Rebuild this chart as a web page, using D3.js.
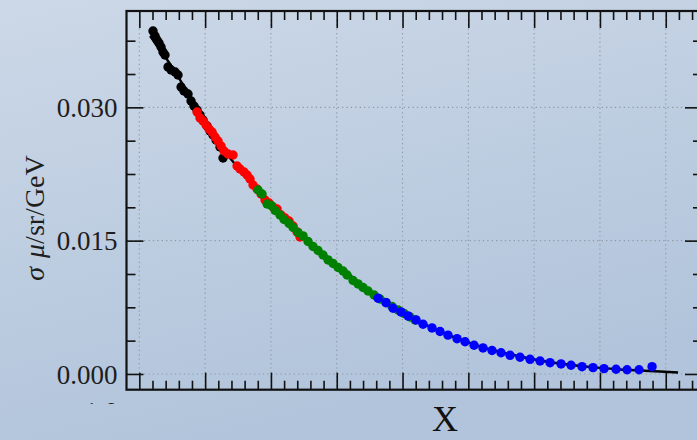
<!DOCTYPE html>
<html>
<head>
<meta charset="utf-8">
<script src="https://cdn.jsdelivr.net/npm/d3@7"></script>
<style>
  html, body { margin: 0; padding: 0; overflow: hidden; }
  svg { display: block; }
</style>
</head>
<body>
<svg id="chart" width="697" height="440"></svg>
<script>
// Cross-section measurements from four data sets, with the fitted curve
const blackX = [0.208, 0.239, 0.269, 0.299, 0.330, 0.360, 0.390, 0.436, 0.482, 0.543, 0.588, 0.634, 0.679, 0.740, 0.786, 0.831, 0.877, 0.922, 0.968, 1.029, 1.074, 1.120, 1.166, 1.226, 1.272];
const blackY = [0.03859, 0.03803, 0.03758, 0.03724, 0.03679, 0.03623, 0.03589, 0.03454, 0.03420, 0.03398, 0.03364, 0.03229, 0.03184, 0.03150, 0.03071, 0.03015, 0.02970, 0.02914, 0.02858, 0.02790, 0.02734, 0.02689, 0.02633, 0.02554, 0.02430];

const redX = [0.877, 0.922, 0.968, 1.014, 1.059, 1.105, 1.150, 1.196, 1.242, 1.287, 1.348, 1.424, 1.485, 1.530, 1.591, 1.637, 1.682, 1.728, 1.789, 1.850, 1.910, 1.971, 2.032, 2.093, 2.153, 2.214, 2.275, 2.336, 2.397, 2.442];
const redY = [0.02948, 0.02880, 0.02846, 0.02801, 0.02756, 0.02723, 0.02666, 0.02621, 0.02565, 0.02509, 0.02475, 0.02464, 0.02340, 0.02306, 0.02273, 0.02239, 0.02194, 0.02126, 0.02081, 0.02025, 0.01958, 0.01924, 0.01879, 0.01856, 0.01789, 0.01755, 0.01721, 0.01665, 0.01598, 0.01541];

const greenX = [1.804, 1.865, 1.941, 2.002, 2.063, 2.138, 2.199, 2.275, 2.336, 2.412, 2.488, 2.564, 2.640, 2.716, 2.792, 2.868, 2.944, 3.020, 3.096, 3.157, 3.248, 3.324, 3.400, 3.476, 3.567, 3.658, 3.749, 3.841, 3.932, 4.023, 4.114, 4.190];
const greenY = [0.02070, 0.02025, 0.01913, 0.01896, 0.01839, 0.01789, 0.01738, 0.01693, 0.01648, 0.01592, 0.01553, 0.01491, 0.01434, 0.01389, 0.01339, 0.01283, 0.01243, 0.01198, 0.01159, 0.01114, 0.01052, 0.01013, 0.00973, 0.00934, 0.00889, 0.00844, 0.00804, 0.00759, 0.00720, 0.00681, 0.00641, 0.00608];

const blueX = [3.628, 3.749, 3.856, 3.977, 4.084, 4.205, 4.312, 4.448, 4.570, 4.691, 4.828, 4.950, 5.087, 5.223, 5.360, 5.497, 5.634, 5.786, 5.938, 6.090, 6.242, 6.409, 6.561, 6.728, 6.895, 7.062, 7.245, 7.412, 7.594, 7.792];
const blueY = [0.00852, 0.00802, 0.00739, 0.00698, 0.00653, 0.00608, 0.00559, 0.00518, 0.00478, 0.00437, 0.00397, 0.00362, 0.00323, 0.00293, 0.00264, 0.00239, 0.00210, 0.00188, 0.00165, 0.00146, 0.00127, 0.00113, 0.00098, 0.00082, 0.00071, 0.00060, 0.00053, 0.00048, 0.00048, 0.00082];

const fitX = [0.163, 0.315, 0.467, 0.619, 0.770, 0.922, 1.074, 1.226, 1.378, 1.530, 1.682, 1.834, 1.986, 2.138, 2.290, 2.442, 2.746, 3.050, 3.354, 3.658, 3.962, 4.266, 4.570, 4.874, 5.178, 5.482, 5.786, 6.090, 6.394, 6.698, 7.002, 7.306, 7.609, 7.913, 8.187];
const fitY = [0.03803, 0.03645, 0.03488, 0.03308, 0.03128, 0.02936, 0.02756, 0.02576, 0.02430, 0.02295, 0.02171, 0.02048, 0.01924, 0.01811, 0.01699, 0.01586, 0.01384, 0.01204, 0.01024, 0.00855, 0.00709, 0.00585, 0.00478, 0.00388, 0.00309, 0.00248, 0.00197, 0.00152, 0.00118, 0.00090, 0.00068, 0.00051, 0.00039, 0.00028, 0.00017];

// Axis ticks
const xMajor = [0, 1, 2, 3, 4, 5, 6, 7, 8];
const xMinor = d3.range(0, 43).map(i => +(i * 0.2).toFixed(1)).filter(v => v % 1 !== 0);
const yMajor = [0.000, 0.015, 0.030];
const yMinor = [0.00375, 0.0075, 0.01125, 0.01875, 0.0225, 0.02625, 0.03375, 0.0375];
const yTickLabels = ["0.000", "0.015", "0.030"];

const series = [
  { xs: blackX, ys: blackY, color: "#000000" },
  { xs: redX, ys: redY, color: "#ff0000" },
  { xs: greenX, ys: greenY, color: "#008000" },
  { xs: blueX, ys: blueY, color: "#0000ff" }
];

const svg = d3.select("#chart");
const W = 697, H = 440;
const plotL = 126.5, plotR = 702, plotT = 11, plotB = 389.7;
const serif = "'Liberation Serif', 'Times New Roman', serif";

// background
const defs = svg.append("defs");
const grad = defs.append("linearGradient").attr("id", "bg")
  .attr("x1", "0").attr("y1", "0").attr("x2", "0.35").attr("y2", "1");
grad.append("stop").attr("offset", "0%").attr("stop-color", "#ccd8e7");
grad.append("stop").attr("offset", "100%").attr("stop-color", "#b1c4db");
svg.append("rect").attr("width", W).attr("height", H).attr("fill", "url(#bg)");

defs.append("clipPath").attr("id", "lowclip")
  .append("rect").attr("x", 0).attr("y", 0).attr("width", W).attr("height", 404);

const x = d3.scaleLinear().domain([-0.195, 8.551]).range([plotL, plotR]);
const y = d3.scaleLinear().domain([-0.00177, 0.04084]).range([plotB, plotT]);

// dotted grid
const grid = svg.append("g").attr("stroke", "#8d96a3").attr("stroke-width", 1.1)
  .attr("stroke-dasharray", "1.2,3.2");
grid.selectAll(".gx").data(xMajor).join("line")
  .attr("x1", d => x(d)).attr("x2", d => x(d)).attr("y1", plotT).attr("y2", plotB);
grid.selectAll(".gy").data(yMajor).join("line")
  .attr("y1", d => y(d)).attr("y2", d => y(d)).attr("x1", plotL).attr("x2", plotR);

function styleAxis(g) {
  g.select(".domain").remove();
  g.selectAll(".tick line").attr("stroke", "#111").attr("stroke-width", 1.6);
}

const majLen = 17, minLen = 9;

// x axes, ticks pointing inward
svg.append("g").attr("transform", `translate(0,${plotB})`)
  .call(d3.axisBottom(x).tickValues(xMajor).tickSize(-majLen).tickFormat(""))
  .call(styleAxis);
svg.append("g").attr("transform", `translate(0,${plotB})`)
  .call(d3.axisBottom(x).tickValues(xMinor).tickSize(-minLen).tickFormat(""))
  .call(styleAxis);
svg.append("g").attr("transform", `translate(0,${plotT})`)
  .call(d3.axisTop(x).tickValues(xMajor).tickSize(-majLen).tickFormat(""))
  .call(styleAxis);
svg.append("g").attr("transform", `translate(0,${plotT})`)
  .call(d3.axisTop(x).tickValues(xMinor).tickSize(-minLen).tickFormat(""))
  .call(styleAxis);

// y axes
const yAxisLeft = svg.append("g").attr("transform", `translate(${plotL},0)`)
  .call(d3.axisLeft(y).tickValues(yMajor).tickSize(-majLen).tickPadding(9)
    .tickFormat((d, i) => yTickLabels[i]))
  .call(styleAxis);
yAxisLeft.selectAll(".tick text")
  .attr("font-family", serif)
  .attr("font-size", 27).attr("fill", "#1e1e1e").attr("dy", "0.34em");
svg.append("g").attr("transform", `translate(${plotL},0)`)
  .call(d3.axisLeft(y).tickValues(yMinor).tickSize(-minLen).tickFormat(""))
  .call(styleAxis);
svg.append("g").attr("transform", `translate(${plotR},0)`)
  .call(d3.axisRight(y).tickValues(yMajor).tickSize(-majLen).tickFormat(""))
  .call(styleAxis);
svg.append("g").attr("transform", `translate(${plotR},0)`)
  .call(d3.axisRight(y).tickValues(yMinor).tickSize(-minLen).tickFormat(""))
  .call(styleAxis);

// frame
svg.append("rect")
  .attr("x", plotL).attr("y", plotT).attr("width", plotR - plotL).attr("height", plotB - plotT)
  .attr("fill", "none").attr("stroke", "#111").attr("stroke-width", 2.2);

// fitted curve
const fit = fitX.map((v, i) => [v, fitY[i]]);
svg.append("path").datum(fit)
  .attr("fill", "none").attr("stroke", "#000").attr("stroke-width", 2.4)
  .attr("d", d3.line().x(d => x(d[0])).y(d => y(d[1])).curve(d3.curveMonotoneX));

// data points
series.forEach(s => {
  svg.append("g").selectAll("circle")
    .data(s.xs.map((v, i) => [v, s.ys[i]]))
    .join("circle")
    .attr("cx", d => x(d[0])).attr("cy", d => y(d[1])).attr("r", 4.7)
    .attr("fill", s.color);
});

// axis titles
const yTitle = svg.append("text")
  .attr("transform", "translate(44,218) rotate(-90)")
  .attr("text-anchor", "middle")
  .attr("font-family", serif)
  .attr("font-size", 28).attr("fill", "#1e1e1e");
yTitle.append("tspan").attr("font-style", "italic").text("σ");
yTitle.append("tspan").attr("font-style", "italic").attr("dx", 9).text("μ");
yTitle.append("tspan").text("/sr/GeV");

svg.append("text")
  .attr("x", 445).attr("y", 431).attr("text-anchor", "middle")
  .attr("font-family", serif)
  .attr("font-size", 36).attr("fill", "#111").text("X");

// partially hidden scale label under the y axis
svg.append("text")
  .attr("clip-path", "url(#lowclip)")
  .attr("x", 118).attr("y", 421).attr("text-anchor", "end")
  .attr("font-family", serif)
  .attr("font-size", 27).attr("fill", "#1e1e1e").text("1.0");
</script>
</body>
</html>
